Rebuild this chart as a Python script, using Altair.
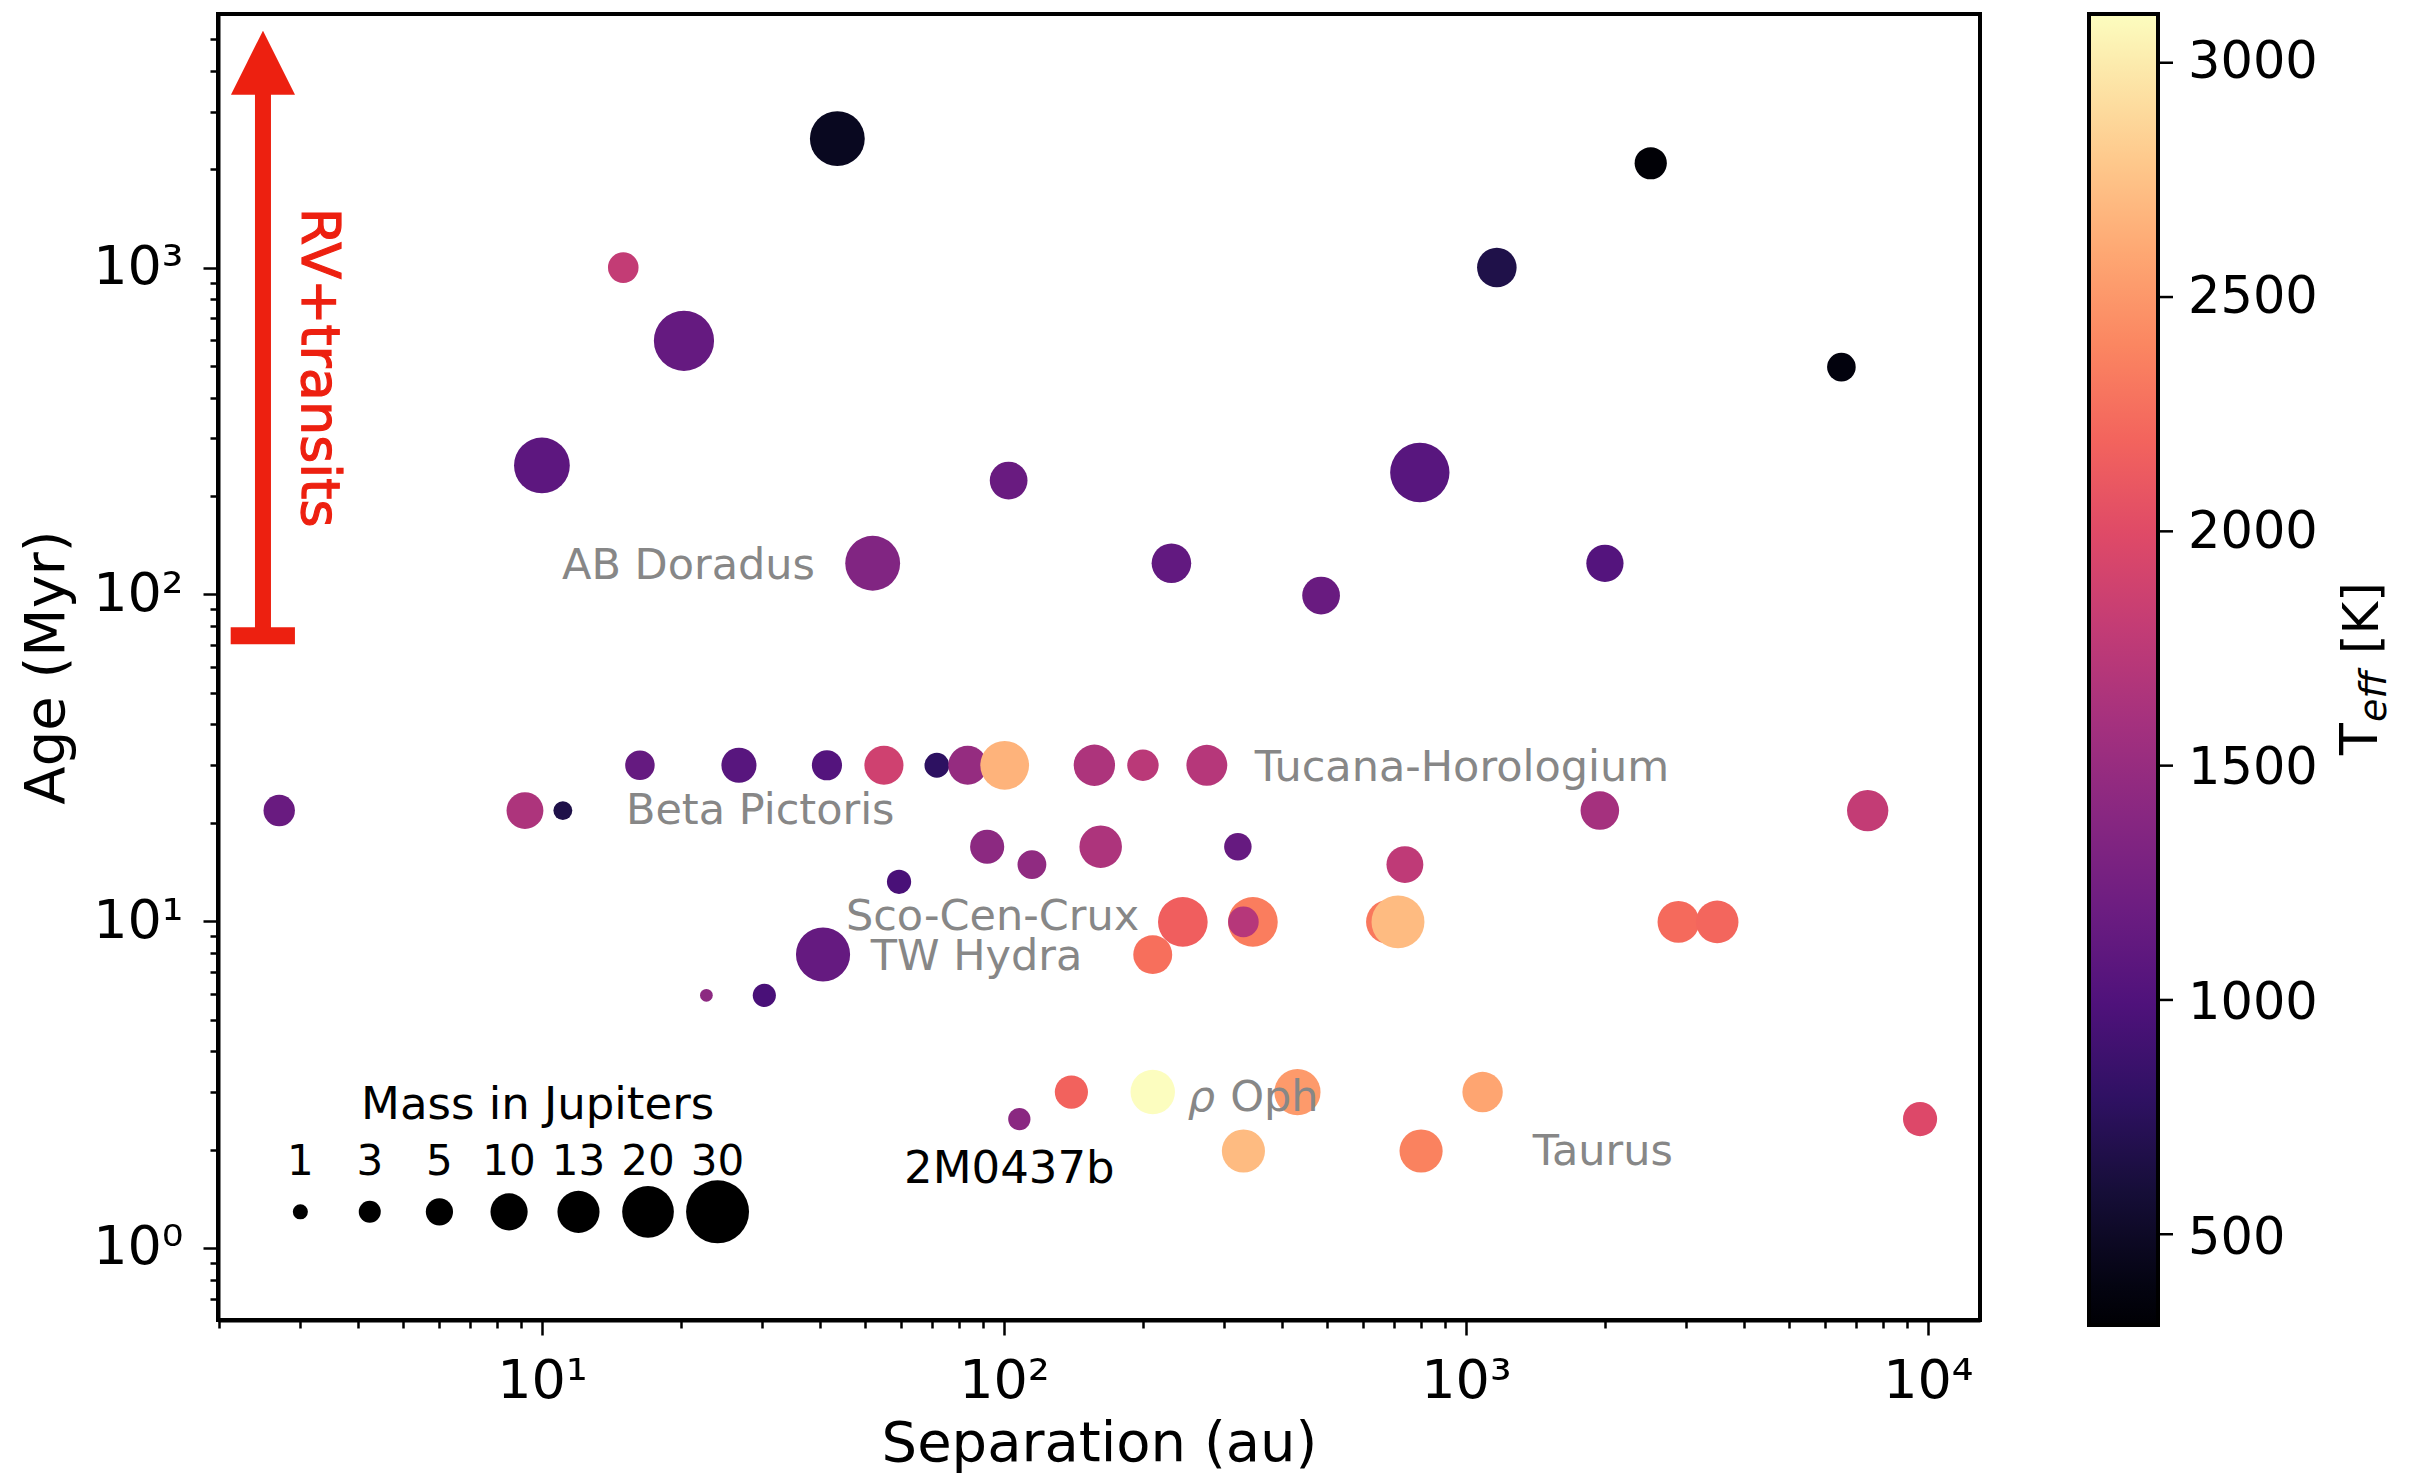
import altair as alt
import pandas as pd

FONT = "DejaVu Sans"

# ---------------- data ----------------
sep_au = [43.6, 2513, 15.0, 1167, 20.3, 6500, 10.0, 102.4, 795, 52, 230.5, 486, 2000,
          16.3, 26.7, 41.4, 55, 71.6, 83.5, 100.4, 157, 200, 275,
          2.70, 9.19, 11.1, 1950, 7410,
          92, 115, 162, 321, 738, 59.3,
          210, 244, 346, 330, 678, 713, 2885, 3500,
          40.6,
          22.7, 30.3,
          140, 210, 432, 1087, 108, 9620,
          330, 800]
age_myr = [2480, 2086, 1000, 1000, 597, 496, 248, 223, 236, 124.5, 124.5, 99.2, 124.5,
           30, 30, 30, 30, 30, 30, 30, 30, 30, 30,
           21.8, 21.8, 21.8, 21.8, 21.8,
           16.9, 14.9, 16.9, 16.9, 14.9, 13.2,
           7.9, 9.95, 9.95, 9.95, 9.95, 9.95, 9.95, 9.95,
           7.91,
           5.93, 5.93,
           3.0, 3.0, 3.0, 3.0, 2.48, 2.48,
           1.98, 1.98]
mass_mj = [22.6, 7.3, 6.5, 11.4, 27.4, 5.6, 23.4, 10.3, 26.6, 22.6, 11.4, 10.3, 10.0,
           6.0, 8.8, 6.3, 11.1, 4.0, 11.0, 17.7, 12.5, 6.9, 12.2,
           6.9, 9.8, 2.0, 10.8, 12.5,
           8.3, 5.7, 13.3, 5.1, 9.8, 3.8,
           11.0, 18.4, 18.4, 6.5, 14.0, 21.0, 12.8, 13.3,
           22.0,
           0.5, 3.4,
           7.8, 14.6, 15.8, 11.9, 3.1, 8.3,
           13.7, 13.7]
teff_k = [480, 330, 1800, 680, 1150, 370, 1100, 1180, 1070, 1350, 1130, 1180, 1040,
          1150, 1070, 1040, 1880, 790, 1490, 2660, 1650, 1740, 1710,
          1180, 1650, 680, 1600, 1800,
          1430, 1460, 1650, 1160, 1770, 960,
          2270, 2160, 2350, 1710, 2320, 2710, 2240, 2210,
          1150,
          1430, 960,
          2190, 3104, 2520, 2580, 1420, 1980,
          2710, 2380]

# mass legend
leg_mass = [1, 3, 5, 10, 13, 20, 30]
leg_labels = ["1", "3", "5", "10", "13", "20", "30"]
leg_sep = [3.0, 4.24, 6.0, 8.49, 12.0, 16.97, 24.0]
leg_age = 1.29
leg_label_age = 1.67

# group annotations (gray)
grp_text = ["Beta Pictoris", "Tucana-Horologium", "Sco-Cen-Crux", "TW Hydra", "Oph", "Taurus"]
grp_sep = [15.2, 349, 45.5, 51.5, 309, 1396]
grp_age = [19.9, 26.9, 9.40, 7.10, 2.63, 1.80]
rho_text = ["ρ"]
rho_sep = [250]
rho_age = [2.63]
abdor_text = ["AB Doradus"]
abdor_sep = [39.0]
abdor_age = [111.6]

# black annotations
blk_text = ["Mass in Jupiters", "2M0437b"]
blk_sep = [4.06, 60.8]
blk_age = [2.48, 1.58]

# RV + transits arrow
arrow_sep = 2.49
arrow_bar_sep = [2.12, 2.92]
arrow_age = [74.7, 4238]

# axes ticks
x_ticks = [2, 3, 4, 5, 6, 7, 8, 9, 10, 20, 30, 40, 50, 60, 70, 80, 90, 100,
           200, 300, 400, 500, 600, 700, 800, 900, 1000,
           2000, 3000, 4000, 5000, 6000, 7000, 8000, 9000, 10000]
y_ticks = [0.7, 0.8, 0.9, 1, 2, 3, 4, 5, 6, 7, 8, 9, 10, 20, 30, 40, 50, 60, 70, 80, 90,
           100, 200, 300, 400, 500, 600, 700, 800, 900, 1000, 2000, 3000, 4000, 5000]
cbar_ticks = [500, 1000, 1500, 2000, 2500, 3000]
teff_range = [317, 3104]

# ---------------- chart ----------------
xscale = alt.Scale(type="log", domain=[1.99, 12970], nice=False)
yscale = alt.Scale(type="log", domain=[0.602, 5970], nice=False)
size_scale = alt.Scale(type="linear", domain=[1, 30], range=[227, 3960], zero=False)
color_scale = alt.Scale(scheme="magma", domain=teff_range)

x_expr = ("datum.value == 10 ? '10\u00b9' : datum.value == 100 ? '10\u00b2' : "
          "datum.value == 1000 ? '10\u00b3' : datum.value == 10000 ? '10\u2074' : ''")
y_expr = ("datum.value == 1 ? '10\u2070' : datum.value == 10 ? '10\u00b9' : "
          "datum.value == 100 ? '10\u00b2' : datum.value == 1000 ? '10\u00b3' : ''")

x_tick_size = {"condition": {"test": "indexof([10,100,1000,10000], datum.value) >= 0", "value": 15}, "value": 8}
y_tick_size = {"condition": {"test": "indexof([1,10,100,1000], datum.value) >= 0", "value": 15}, "value": 8}

xaxis = alt.Axis(values=x_ticks, labelExpr=x_expr, tickSize=x_tick_size, tickWidth=2.5,
                 tickColor="black", labelFontSize=54, labelFont=FONT, labelColor="black",
                 labelPadding=19, labelFlush=False, labelOverlap=False,
                 domainColor="black", domainWidth=4, grid=False,
                 title="Separation (au)", titleFontSize=56, titleFont=FONT,
                 titleFontWeight="normal", titleColor="black",
                 titleY=140, titleBaseline="alphabetic")
yaxis = alt.Axis(values=y_ticks, labelExpr=y_expr, tickSize=y_tick_size, tickWidth=2.5,
                 tickColor="black", labelFontSize=54, labelFont=FONT, labelColor="black",
                 labelPadding=20, labelFlush=False, labelOverlap=False,
                 domainColor="black", domainWidth=4, grid=False,
                 title="Age (Myr)", titleFontSize=56, titleFont=FONT,
                 titleFontWeight="normal", titleColor="black",
                 titleX=-155, titleY=653, titleAngle=270, titleBaseline="alphabetic",
                 titleAlign="center")

X = alt.X("sep:Q", scale=xscale, axis=xaxis)
Y = alt.Y("age:Q", scale=yscale, axis=yaxis)

df_pts = pd.DataFrame({"sep": sep_au, "age": age_myr, "mass": mass_mj, "teff": teff_k})
points = alt.Chart(df_pts).mark_circle(opacity=1).encode(
    x=X, y=Y,
    size=alt.Size("mass:Q", scale=size_scale, legend=None),
    color=alt.Color("teff:Q", scale=color_scale,
                    legend=alt.Legend(title=None, orient="right", offset=109, padding=0,
                                      direction="vertical", type="gradient",
                                      gradientLength=1311, gradientThickness=69,
                                      gradientStrokeColor="black", gradientStrokeWidth=4,
                                      labelFontSize=51, labelFont=FONT, labelColor="black",
                                      labelOffset=30, labelLimit=300, values=cbar_ticks,
                                      format="d")),
)

df_leg = pd.DataFrame({"sep": leg_sep, "age": [leg_age] * len(leg_sep), "mass": leg_mass})
leg_pts = alt.Chart(df_leg).mark_circle(opacity=1, color="black").encode(
    x=X, y=Y, size=alt.Size("mass:Q", scale=size_scale, legend=None))

df_leg_lab = pd.DataFrame({"sep": leg_sep, "age": [leg_label_age] * len(leg_sep), "t": leg_labels})
leg_lab = alt.Chart(df_leg_lab).mark_text(font=FONT, fontSize=42, color="black",
                                          align="center", baseline="alphabetic").encode(
    x=X, y=Y, text="t:N")

GRAY = "#878787"
df_grp = pd.DataFrame({"sep": grp_sep, "age": grp_age, "t": grp_text})
grp = alt.Chart(df_grp).mark_text(font=FONT, fontSize=43, color=GRAY,
                                  align="left", baseline="alphabetic").encode(x=X, y=Y, text="t:N")

df_rho = pd.DataFrame({"sep": rho_sep, "age": rho_age, "t": rho_text})
rho = alt.Chart(df_rho).mark_text(font=FONT, fontSize=43, fontStyle="italic", color=GRAY,
                                  align="left", baseline="alphabetic").encode(x=X, y=Y, text="t:N")

df_ab = pd.DataFrame({"sep": abdor_sep, "age": abdor_age, "t": abdor_text})
ab = alt.Chart(df_ab).mark_text(font=FONT, fontSize=43, color=GRAY,
                                align="right", baseline="alphabetic").encode(x=X, y=Y, text="t:N")

df_blk = pd.DataFrame({"sep": blk_sep, "age": blk_age, "t": blk_text})
blk = alt.Chart(df_blk).mark_text(font=FONT, fontSize=45, color="black",
                                  align="left", baseline="alphabetic").encode(x=X, y=Y, text="t:N")

RED = "#ed2010"
df_vline = pd.DataFrame({"sep": [arrow_sep], "age": [arrow_age[0]], "age2": [arrow_age[1]]})
vline = alt.Chart(df_vline).mark_rule(color=RED, strokeWidth=16).encode(
    x=X, y=Y, y2=alt.Y2("age2:Q"))
df_bar = pd.DataFrame({"sep": [arrow_bar_sep[0]], "sep2": [arrow_bar_sep[1]], "age": [arrow_age[0]]})
bar = alt.Chart(df_bar).mark_rule(color=RED, strokeWidth=17).encode(
    x=X, x2=alt.X2("sep2:Q"), y=Y)
df_head = pd.DataFrame({"sep": [arrow_sep], "age": [arrow_age[1]]})
head = alt.Chart(df_head).mark_point(shape="M0,-1L1,1L-1,1Z", filled=True, size=4096,
                                     color=RED, opacity=1, strokeWidth=0).encode(x=X, y=Y)
df_rv = pd.DataFrame({"sep": [3.02], "age": [1525], "t": ["RV+transits"]})
rv = alt.Chart(df_rv).mark_text(font=FONT, fontSize=54, color=RED, angle=90,
                                stroke=RED, strokeWidth=1.2,
                                align="left", baseline="alphabetic").encode(x=X, y=Y, text="t:N")

# colorbar title  T_eff [K]
cb_T = alt.Chart(pd.DataFrame({"t": ["T"]})).mark_text(
    font=FONT, fontSize=52, color="black", angle=270, align="left", baseline="alphabetic"
).encode(x=alt.value(2159), y=alt.value(741), text="t:N")
cb_eff = alt.Chart(pd.DataFrame({"t": ["eff"]})).mark_text(
    font=FONT, fontSize=38, fontStyle="italic", color="black", angle=270, align="left",
    baseline="alphabetic"
).encode(x=alt.value(2168), y=alt.value(708), text="t:N")
cb_K = alt.Chart(pd.DataFrame({"t": ["[K]"]})).mark_text(
    font=FONT, fontSize=50, color="black", angle=270, align="left", baseline="alphabetic"
).encode(x=alt.value(2160), y=alt.value(640), text="t:N")

main = alt.layer(
    vline, bar, head, rv, points, leg_pts, leg_lab, grp, rho, ab, blk, cb_T, cb_eff, cb_K
)

# colorbar tick marks (own linear scale over the Teff range)
cb_ticks = alt.Chart(pd.DataFrame({"cb": cbar_ticks})).mark_rule(
    color="black", strokeWidth=2.5
).encode(
    x=alt.value(1940), x2=alt.value(1955),
    y=alt.Y("cb:Q", scale=alt.Scale(domain=teff_range, nice=False, zero=False), axis=None),
)

chart = alt.layer(main, cb_ticks).resolve_scale(y="independent").properties(
    width=1762, height=1306,
    autosize=alt.AutoSizeParams(type="none"),
    padding={"left": 218, "top": 14, "right": 432, "bottom": 158},
    background="white",
).configure_view(stroke="black", strokeWidth=4)

chart.save("out.html", embed_options={"renderer": "svg", "actions": False})
